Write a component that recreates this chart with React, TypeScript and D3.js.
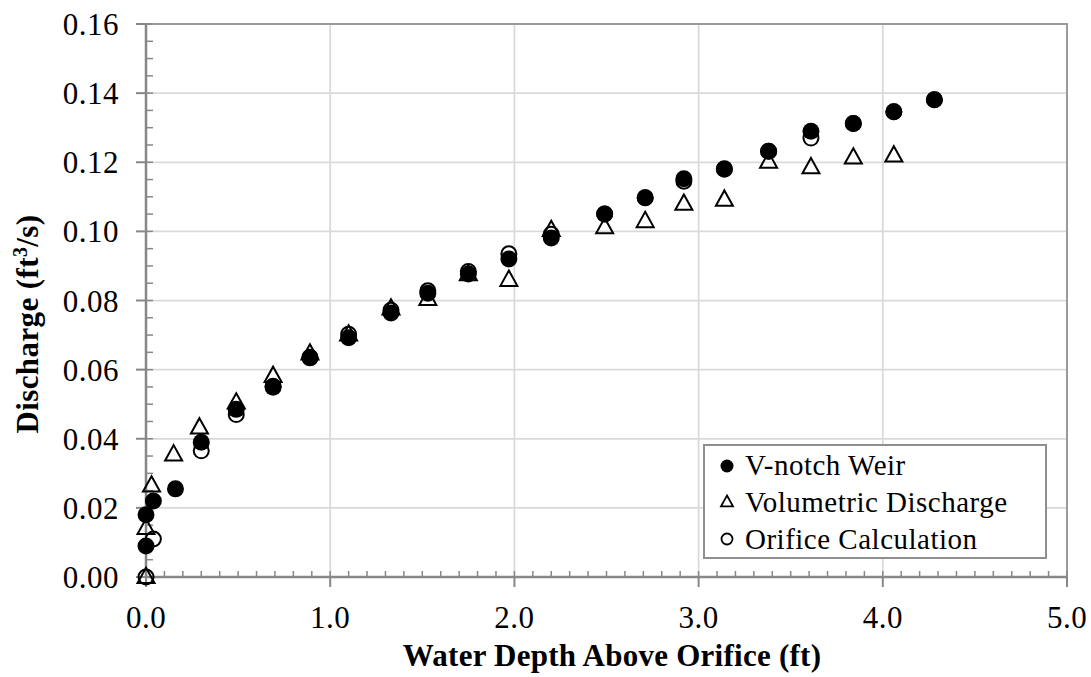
import React from "react";
import * as d3 from "d3";

// ---- data ----
const weirDepth = [0.0, 0.0, 0.04, 0.16, 0.3, 0.49, 0.69, 0.89, 1.1, 1.33, 1.53, 1.75, 1.97, 2.2, 2.49, 2.71, 2.92, 3.14, 3.38, 3.61, 3.84, 4.06, 4.28];
const weirQ = [0.009, 0.018, 0.022, 0.0255, 0.039, 0.0485, 0.0549, 0.0634, 0.0692, 0.0764, 0.0821, 0.0877, 0.092, 0.0981, 0.105, 0.1097, 0.1152, 0.1181, 0.1232, 0.129, 0.1312, 0.1346, 0.1381];

const volDepth = [0.0, 0.0, 0.03, 0.15, 0.29, 0.49, 0.69, 0.89, 1.1, 1.33, 1.53, 1.75, 1.97, 2.2, 2.49, 2.71, 2.92, 3.14, 3.38, 3.61, 3.84, 4.06];
const volQ = [0.0, 0.0142, 0.0265, 0.0355, 0.0433, 0.0505, 0.0582, 0.0647, 0.0702, 0.0777, 0.0805, 0.0876, 0.086, 0.1004, 0.1012, 0.103, 0.108, 0.1092, 0.1202, 0.1186, 0.1214, 0.122];

const orfDepth = [0.0, 0.04, 0.3, 0.49, 0.69, 0.89, 1.1, 1.33, 1.53, 1.75, 1.97, 2.2, 2.49, 2.71, 2.92, 3.14, 3.38, 3.61, 3.84, 4.06, 4.28];
const orfQ = [0.0, 0.011, 0.0365, 0.047, 0.0552, 0.0636, 0.0702, 0.0772, 0.0828, 0.0884, 0.0935, 0.0992, 0.105, 0.1097, 0.1145, 0.118, 0.1232, 0.127, 0.1312, 0.1346, 0.1381];

const xTicks = [0, 1, 2, 3, 4, 5];
const yTicks = [0, 0.02, 0.04, 0.06, 0.08, 0.1, 0.12, 0.14, 0.16];
const legendLabels = ["V-notch Weir", "Volumetric Discharge", "Orifice Calculation"];

const W = 1091;
const H = 677;
const FONT = "'Liberation Serif', 'DejaVu Serif', serif";

export default function App() {
  const x = d3.scaleLinear().domain([0, 5]).range([146, 1067]);
  const y = d3.scaleLinear().domain([0, 0.16]).range([577, 24]);
  const [x0, x1] = x.range();
  const [y0, y1] = y.range();

  const xMinor = d3.range(0, 5.0001, 0.1);
  const yMinor = d3.range(0, 0.16001, 0.005);

  const tri = (cx: number, cy: number, s: number) => {
    const h = s * 0.9;
    return `M${cx},${cy - h * 0.6}L${cx + s / 2},${cy + h * 0.4}L${cx - s / 2},${cy + h * 0.4}Z`;
  };

  const axisColor = "#878787";
  const gridColor = "#d9d9d9";
  const ts = { fontFamily: FONT } as React.CSSProperties;

  return (
    <svg width={W} height={H} style={{ position: "absolute", left: 0, top: 0, background: "#fff", fontFamily: FONT }}>
      <rect x={0} y={0} width={W} height={H} fill="#fff" />
      {/* grid */}
      {yTicks.map((t) => (
        <line key={"gy" + t} x1={x0} x2={x1} y1={y(t)} y2={y(t)} stroke={gridColor} strokeWidth={1.75} />
      ))}
      {xTicks.map((t) => (
        <line key={"gx" + t} x1={x(t)} x2={x(t)} y1={y0} y2={y1} stroke={gridColor} strokeWidth={1.75} />
      ))}
      {/* plot border */}
      <rect x={x0} y={y1} width={x1 - x0} height={y0 - y1} fill="none" stroke="#9a9a9a" strokeWidth={2} />

      {/* minor ticks */}
      {xMinor.map((t, i) => (
        <line key={"mx" + i} x1={x(t)} x2={x(t)} y1={y0} y2={y0 - 6} stroke={axisColor} strokeWidth={1.5} />
      ))}
      {yMinor.map((t, i) => (
        <line key={"my" + i} x1={x0} x2={x0 + 7} y1={y(t)} y2={y(t)} stroke={axisColor} strokeWidth={1.5} />
      ))}
      {/* major ticks */}
      {xTicks.map((t) => (
        <line key={"tx" + t} x1={x(t)} x2={x(t)} y1={y0} y2={y0 + 10} stroke={axisColor} strokeWidth={2} />
      ))}
      {yTicks.map((t) => (
        <line key={"ty" + t} x1={x0 - 10} x2={x0} y1={y(t)} y2={y(t)} stroke={axisColor} strokeWidth={2} />
      ))}
      {/* axes */}
      <line x1={x0} x2={x1} y1={y0} y2={y0} stroke={axisColor} strokeWidth={2.5} />
      <line x1={x0} x2={x0} y1={y0} y2={y1} stroke={axisColor} strokeWidth={2.5} />

      {/* tick labels */}
      {yTicks.map((t) => (
        <text key={"ly" + t} x={119} y={y(t) + 11} textAnchor="end" fontSize={31} letterSpacing={0.5} fill="#000" style={ts}>
          {d3.format(".2f")(t)}
        </text>
      ))}
      {xTicks.map((t) => (
        <text key={"lx" + t} x={x(t)} y={628} textAnchor="middle" fontSize={31} letterSpacing={0.5} fill="#000" style={ts}>
          {d3.format(".1f")(t)}
        </text>
      ))}

      {/* axis titles */}
      <text x={612} y={666} textAnchor="middle" fontSize={31} letterSpacing={0.25} fontWeight="bold" fill="#000" style={ts}>
        Water Depth Above Orifice (ft)
      </text>
      <text transform="translate(38,324) rotate(-90)" textAnchor="middle" fontSize={31} letterSpacing={0.4} fontWeight="bold" fill="#000" style={ts}>
        Discharge (ft<tspan fontSize={20} dy={-11}>3</tspan>
        <tspan dy={11}>/s)</tspan>
      </text>

      {/* series: orifice (open circles) */}
      {orfDepth.map((d, i) => (
        <circle key={"o" + i} cx={x(d)} cy={y(orfQ[i])} r={7.5} fill="none" stroke="#000" strokeWidth={2} />
      ))}
      {/* series: volumetric (open triangles) */}
      {volDepth.map((d, i) => (
        <path key={"v" + i} d={tri(x(d), y(volQ[i]), 17)} fill="none" stroke="#000" strokeWidth={2} strokeLinejoin="miter" />
      ))}
      {/* series: V-notch weir (filled circles) */}
      {weirDepth.map((d, i) => (
        <circle key={"w" + i} cx={x(d)} cy={y(weirQ[i])} r={8.5} fill="#000" />
      ))}

      {/* legend */}
      <rect x={704} y={445} width={342} height={113} fill="#fff" stroke="#8f8f8f" strokeWidth={2} />
      <circle cx={727} cy={466} r={6.5} fill="#000" />
      <path d={tri(727, 502, 12)} fill="none" stroke="#000" strokeWidth={1.8} />
      <circle cx={727} cy={539} r={5.5} fill="none" stroke="#000" strokeWidth={1.8} />
      {legendLabels.map((l, i) => (
        <text key={l} x={745} y={475 + i * 37} fontSize={29} letterSpacing={0.5} fill="#000" style={ts}>
          {l}
        </text>
      ))}
    </svg>
  );
}
